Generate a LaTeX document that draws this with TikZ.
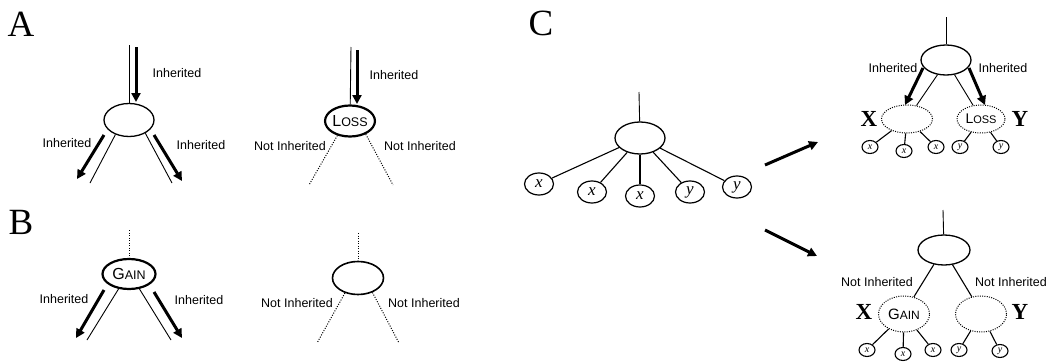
\documentclass[tikz,border=0pt]{standalone}
\usepackage{fontspec}
\newfontfamily\labfont{Liberation Sans}
\newfontfamily\serffont{Liberation Serif}
\usetikzlibrary{arrows.meta,shapes.geometric}
\newcommand\scword[4]{{\fontsize{#1}{#1}\selectfont #3}{\fontsize{#2}{#2}\selectfont #4}}
\begin{document}
\begin{tikzpicture}[x=1pt,y=-1pt,
  ell/.style={ellipse,draw,line width=1.3pt,inner sep=0pt},
  boldell/.style={ellipse,draw,line width=2.2pt,inner sep=0pt,font=\labfont},
  dotell/.style={ellipse,draw,line width=1pt,dash pattern=on 1pt off 1.3pt,inner sep=0pt,font=\labfont},
  bigleaf/.style={ellipse,draw,line width=1.2pt,inner sep=0pt,minimum width=29pt,minimum height=22pt,font=\serffont\itshape\fontsize{17}{17}\selectfont},
  smleaf/.style={ellipse,draw,line width=1.1pt,inner sep=0pt,minimum width=16pt,minimum height=13pt,font=\serffont\itshape\fontsize{10}{10}\selectfont},
  thinl/.style={line width=0.9pt},
  dotl/.style={line width=1pt,dash pattern=on 1pt off 1.5pt},
  bigarr/.style={line width=3pt,-{Triangle[length=9pt,width=9pt]}},
  lab/.style={font=\labfont\fontsize{12.5}{14}\selectfont,inner sep=0pt},
  panel/.style={font=\serffont\fontsize{37}{37}\selectfont,inner sep=0pt},
  xy/.style={font=\serffont\bfseries\fontsize{23}{23}\selectfont,inner sep=0pt}
]
\useasboundingbox[fill=white] (0,0) rectangle (1053,364);

% ---------- Panel A ----------
\node[panel] (lA) at (21,24) {A};
% left tree
\node[ell,minimum width=50pt,minimum height=33pt] (a1) at (129,120) {};
\coordinate (a1t) at (129,45);
\draw[thinl] (a1t) -- (a1);
\coordinate (a1i0) at (136,47); \coordinate (a1i1) at (136,102);
\draw[bigarr] (a1i0) -- (a1i1);
\node[lab] (a1lt) at (177,73) {Inherited};
\coordinate (a1Le) at (90,183); \draw[thinl] (a1.227) -- (a1Le);
\coordinate (a1Re) at (172,183); \draw[thinl] (a1.321) -- (a1Re);
\coordinate (a1Lt) at (104,135); \coordinate (a1Lh) at (77,179);
\draw[bigarr] (a1Lt) -- (a1Lh);
\coordinate (a1Rt) at (154,135); \coordinate (a1Rh) at (182,181);
\draw[bigarr] (a1Rt) -- (a1Rh);
\node[lab] (a1ll) at (67,143) {Inherited};
\node[lab] (a1lr) at (201,145) {Inherited};
% right tree
\node[boldell,minimum width=49pt,minimum height=31pt] (a2) at (350,121) {\scword{16}{12.5}{L}{OSS}};
\coordinate (a2t) at (351,47);
\draw[thinl] (a2t) -- (a2);
\coordinate (a2i0) at (357,50); \coordinate (a2i1) at (357,104);
\draw[bigarr] (a2i0) -- (a2i1);
\node[lab] (a2lt) at (394,75) {Inherited};
\coordinate (a2Le) at (309,185); \draw[dotl] (a2.229) -- (a2Le);
\coordinate (a2Re) at (393,185); \draw[dotl] (a2.320) -- (a2Re);
\node[lab] (a2ll) at (290,146) {Not Inherited};
\node[lab] (a2lr) at (420,146) {Not Inherited};

% ---------- Panel B ----------
\node[panel] (lB) at (21,222) {B};
\node[boldell,minimum width=53pt,minimum height=30pt] (b1) at (129,274) {\scword{16}{12.5}{G}{AIN}};
\coordinate (b1t) at (129,230);
\draw[dotl] (b1t) -- (b1);
\coordinate (b1Lt) at (104,290); \coordinate (b1Lh) at (76,338);
\draw[bigarr] (b1Lt) -- (b1Lh);
\coordinate (b1Rt) at (154,292); \coordinate (b1Rh) at (182,338);
\draw[bigarr] (b1Rt) -- (b1Rh);
\coordinate (b1Le) at (87,340); \draw[thinl] (b1.235) -- (b1Le);
\coordinate (b1Re) at (171,340); \draw[thinl] (b1.305) -- (b1Re);
\node[lab] (b1ll) at (64,299) {Inherited};
\node[lab] (b1lr) at (199,300) {Inherited};
% right tree
\node[ell,line width=1.6pt,minimum width=51pt,minimum height=33pt] (b2) at (358,278) {};
\coordinate (b2t) at (358,233);
\draw[dotl] (b2t) -- (b2);
\coordinate (b2Le) at (317,343); \draw[dotl] (b2.229) -- (b2Le);
\coordinate (b2Re) at (399,343); \draw[dotl] (b2.315) -- (b2Re);
\node[lab] (b2ll) at (297,303) {Not Inherited};
\node[lab] (b2lr) at (424,303) {Not Inherited};

% ---------- Panel C ----------
\node[panel] (lC) at (541,23) {C};
\node[ell,minimum width=50pt,minimum height=32pt] (c0) at (640,138) {};
\coordinate (c0t) at (639,92);
\draw[thinl] (c0t) -- (c0);
\node[bigleaf] (cx1) at (539,184) {x};
\node[bigleaf] (cx2) at (592,192) {x};
\node[bigleaf] (cx3) at (640,196) {x};
\node[bigleaf] (cy1) at (690,192) {y};
\node[bigleaf] (cy2) at (737,187) {y};
\foreach \c in {cx1,cx2,cx3,cy1,cy2} \draw[line width=1.1pt] (c0) -- (\c);
\coordinate (arU0) at (765,165); \coordinate (arU1) at (818,142);
\draw[bigarr] (arU0) -- (arU1);
\coordinate (arD0) at (765,230); \coordinate (arD1) at (817,256);
\draw[bigarr] (arD0) -- (arD1);

% upper right tree
\node[ell,minimum width=50pt,minimum height=30pt] (r1) at (946,60) {};
\coordinate (r1t) at (946,17);
\draw[thinl] (r1t) -- (r1);
\node[dotell,minimum width=51pt,minimum height=28pt] (X1) at (907,119) {};
\node[dotell,minimum width=48pt,minimum height=28pt] (Y1) at (981,119) {\scword{14}{11}{L}{OSS}};
\draw[thinl] (r1.240) -- (X1.55);
\draw[thinl] (r1.300) -- (Y1.120);
\coordinate (r1Lt) at (923,68); \coordinate (r1Lh) at (905,105);
\draw[bigarr] (r1Lt) -- (r1Lh);
\coordinate (r1Rt) at (969,68); \coordinate (r1Rh) at (985,105);
\draw[bigarr] (r1Rt) -- (r1Rh);
\node[lab] (r1ll) at (893,68) {Inherited};
\node[lab] (r1lr) at (1003,68) {Inherited};
\node[xy] (X1l) at (869,119) {X};
\node[xy] (Y1l) at (1020,119) {Y};
\node[smleaf] (ux1) at (870,147) {x};
\node[smleaf] (ux2) at (904,151) {x};
\node[smleaf] (ux3) at (936,147) {x};
\node[smleaf] (uy1) at (960,147) {y};
\node[smleaf] (uy2) at (1001,147) {y};
\foreach \c in {ux1,ux2,ux3} \draw[line width=1.1pt] (X1) -- (\c);
\foreach \c in {uy1,uy2} \draw[line width=1.1pt] (Y1) -- (\c);

% lower right tree
\node[ell,minimum width=52pt,minimum height=30pt] (r2) at (944,250) {};
\coordinate (r2t) at (943,210);
\draw[thinl] (r2t) -- (r2);
\node[dotell,minimum width=51pt,minimum height=36pt] (X2) at (904,314) {\scword{15}{12}{G}{AIN}};
\node[dotell,minimum width=51pt,minimum height=36pt] (Y2) at (981,314) {};
\draw[line width=1.1pt] (r2.235) -- (X2.60);
\draw[line width=1.1pt] (r2.300) -- (Y2.118);
\node[lab] (r2ll) at (877,282) {Not Inherited};
\node[lab] (r2lr) at (1011,282) {Not Inherited};
\node[xy] (X2l) at (864,312) {X};
\node[xy] (Y2l) at (1020,312) {Y};
\node[smleaf] (lx1) at (867,350) {x};
\node[smleaf] (lx2) at (903,354) {x};
\node[smleaf] (lx3) at (933,350) {x};
\node[smleaf] (ly1) at (959,350) {y};
\node[smleaf] (ly2) at (1000,351) {y};
\foreach \c in {lx1,lx2,lx3} \draw[line width=1.1pt] (X2) -- (\c);
\foreach \c in {ly1,ly2} \draw[line width=1.1pt] (Y2) -- (\c);
\end{tikzpicture}
\end{document}
